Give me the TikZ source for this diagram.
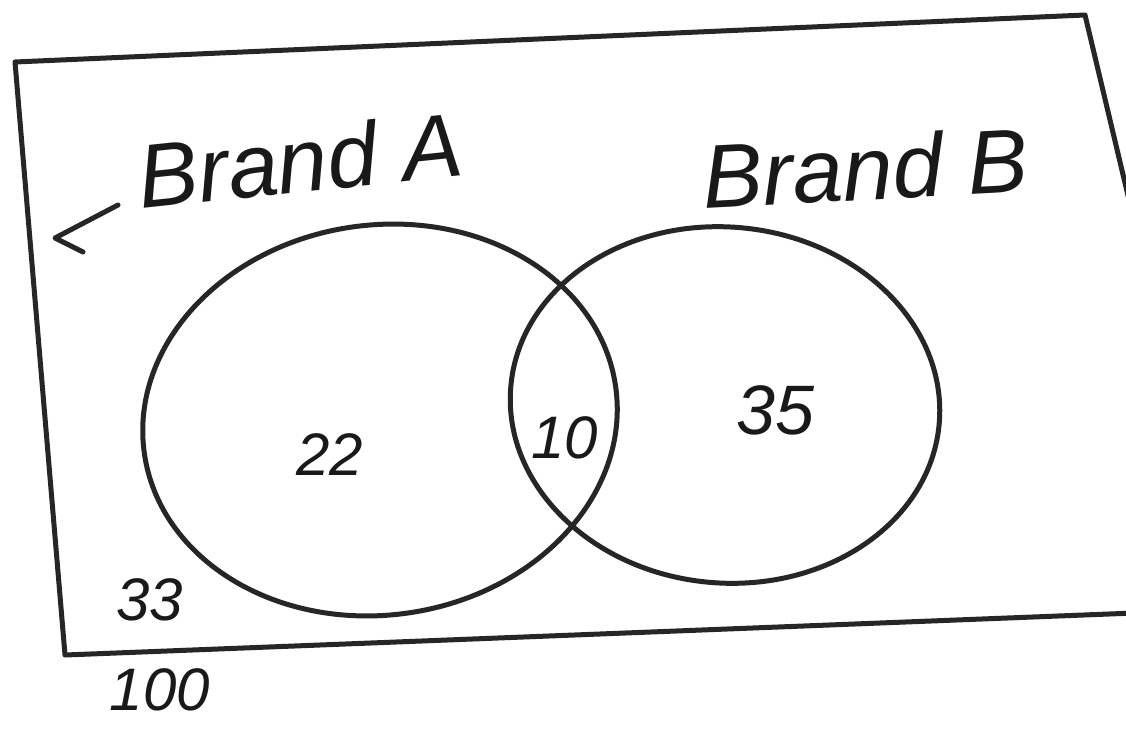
\documentclass[tikz,border=0pt]{standalone}
\usepackage{fontspec}
\setmainfont{Liberation Sans}
\begin{document}
\begin{tikzpicture}[x=1pt,y=-1pt,
  ink/.style={draw=black!85,line width=5pt,line cap=round,line join=round},
  hand/.style={font=\fontsize{#1}{#1}\selectfont\itshape,text=black!90,inner sep=0pt}]
\useasboundingbox (0,0) rectangle (1126,747);
\fill[white] (0,0) rectangle (1126,747);
\begin{scope}
\clip (0,0) rectangle (1126,747);
\draw[ink] (15,62) -- (1085,15) -- (1160,330) -- (1160,612) -- (65,655) -- cycle;
\end{scope}
% circles
\draw[ink,rotate around={8:(380,420)}] (380,420) ellipse [x radius=238,y radius=195];
\draw[ink,rotate around={-5:(725,405)}] (725,405) ellipse [x radius=215,y radius=178];
% labels
\node[hand=90,rotate=6] (la) at (300,160) {Brand A};
\node[hand=90,rotate=3] (lb) at (865,168) {Brand B};
\coordinate (tip) at (55,238);
\coordinate (s) at (118,205);
\draw[ink] (s) -- (tip) -- ++(28,14);
\node[hand=60] (n22) at (330,455) {22};
\node[hand=60] (n10) at (565,438) {10};
\node[hand=70] (n35) at (775,410) {35};
\node[hand=60] (n33) at (150,600) {33};
\node[hand=60] (n100) at (160,690) {100};
\end{tikzpicture}
\end{document}
